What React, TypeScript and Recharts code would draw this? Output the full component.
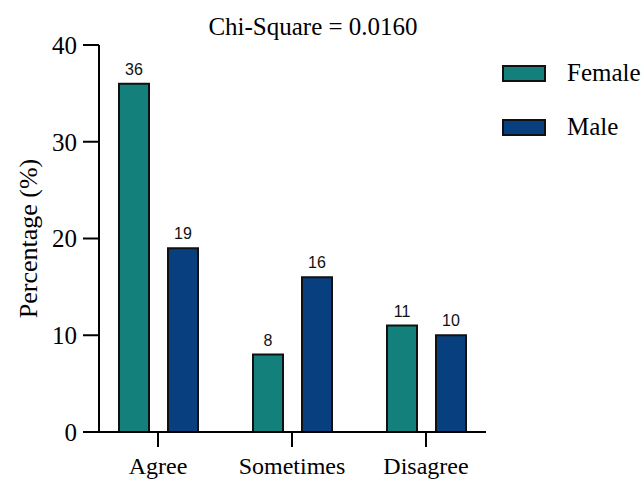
import { BarChart, Bar, XAxis, YAxis, LabelList } from "recharts";

const categories = ["Agree", "Sometimes", "Disagree"];
const female = [36, 8, 11];
const male = [19, 16, 10];
const yTicks = [0, 10, 20, 30, 40];

const series = [
  { key: "female", name: "Female", color: "#14807C" },
  { key: "male", name: "Male", color: "#08407F" },
];

const rows = categories.map((c, i) => ({ name: c, female: female[i], male: male[i] }));

const serif = "'Liberation Serif', 'Times New Roman', serif";
const sans = "'Liberation Sans', Arial, sans-serif";

function CategoryTick({ x, y, payload }: { x?: number; y?: number; payload?: { value: string } }) {
  return (
    <text
      x={x}
      y={(y ?? 0) + 25}
      textAnchor="middle"
      style={{ fontFamily: serif, fontSize: 24, fill: "#000" }}
    >
      {payload?.value}
    </text>
  );
}

export default function App() {
  return (
    <div style={{ position: "absolute", left: 0, top: 0, width: 644, height: 479, background: "#fff" }}>
      {/* title */}
      <div
        style={{
          position: "absolute",
          left: 0,
          width: 626,
          top: 12,
          textAlign: "center",
          fontFamily: serif,
          fontSize: 25,
          lineHeight: "30px",
          color: "#000",
        }}
      >
        Chi-Square = 0.0160
      </div>

      <BarChart
        width={644}
        height={479}
        data={rows}
        margin={{ top: 45, right: 158, left: 39, bottom: 7 }}
        barGap={19}
      >
        <XAxis
          dataKey="name"
          padding={{ left: -8, right: -7 }}
          height={40}
          tickSize={15}
          axisLine={{ stroke: "#000", strokeWidth: 2 }}
          tickLine={{ stroke: "#000", strokeWidth: 2 }}
          tick={<CategoryTick />}
        />
        <YAxis
          width={60}
          domain={[0, 40]}
          ticks={yTicks}
          interval={0}
          tickSize={16}
          tickMargin={6}
          axisLine={{ stroke: "#000", strokeWidth: 2 }}
          tickLine={{ stroke: "#000", strokeWidth: 2 }}
          tick={{ fill: "#000", fontFamily: serif, fontSize: 25 }}
          label={{
            value: "Percentage (%)",
            angle: -90,
            position: "insideLeft",
            offset: -11,
            style: { textAnchor: "middle", fontFamily: serif, fontSize: 26, fill: "#000" },
          }}
        />
        {series.map((s) => (
          <Bar
            key={s.key}
            dataKey={s.key}
            name={s.name}
            fill={s.color}
            stroke="#111"
            strokeWidth={2}
            barSize={30}
            isAnimationActive={false}
          >
            <LabelList
              dataKey={s.key}
              position="top"
              offset={9}
              style={{ fontFamily: sans, fontSize: 16, fill: "#111" }}
            />
          </Bar>
        ))}
      </BarChart>

      {/* legend */}
      {series.map((s, i) => (
        <div
          key={s.key}
          style={{ position: "absolute", left: 502, top: 63 + i * 54, display: "flex", alignItems: "center" }}
        >
          <div
            style={{
              width: 40,
              height: 13,
              background: s.color,
              border: "2px solid #111",
              marginRight: 21,
            }}
          />
          <span style={{ fontFamily: serif, fontSize: 25, color: "#000", lineHeight: "20px", whiteSpace: "nowrap" }}>
            {s.name}
          </span>
        </div>
      ))}
    </div>
  );
}
